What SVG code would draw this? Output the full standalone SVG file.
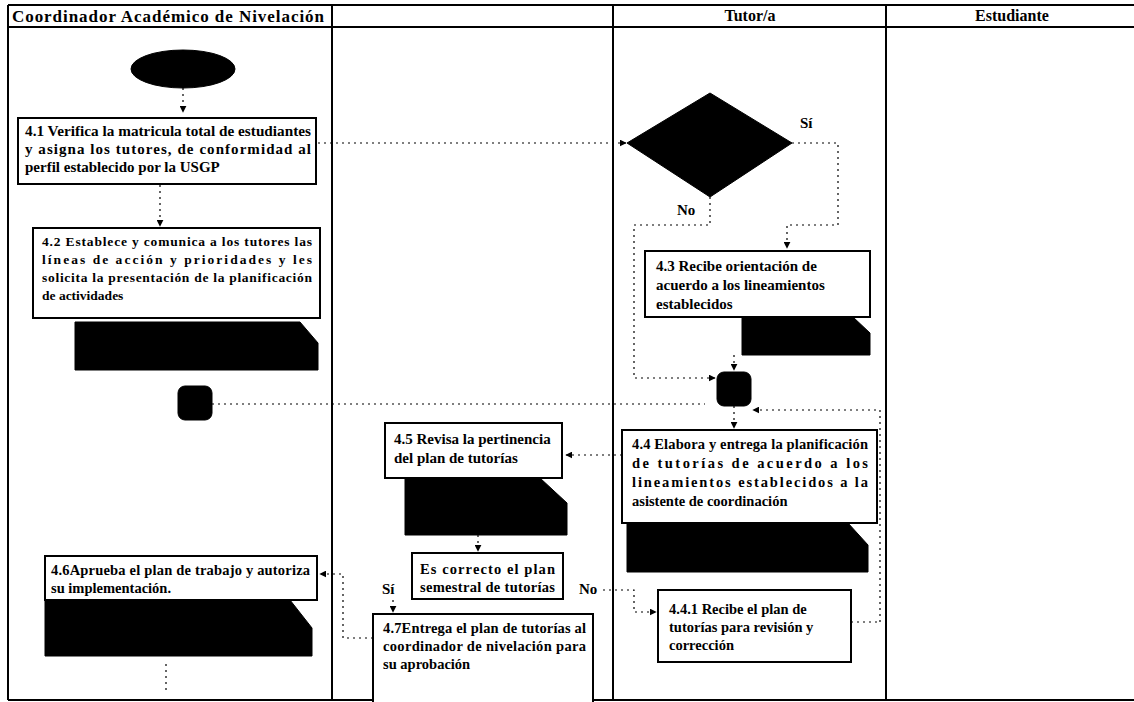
<svg xmlns="http://www.w3.org/2000/svg" width="1134" height="702" viewBox="0 0 1134 702">
<style>
.t{font-family:"Liberation Serif","Times New Roman",serif;font-weight:bold;fill:#000}
.h{font-size:17px}
.b{fill:#fff;stroke:#000;stroke-width:2}
.k{fill:#000;stroke:#000;stroke-width:1}
.lane{stroke:#000;stroke-width:2;fill:none}
.c{fill:none;stroke:#000;stroke-width:1.2;stroke-dasharray:2 4}
.lbl{font-size:15px}
</style>
<defs>
<marker id="ah" viewBox="0 0 10 10" refX="9" refY="5" markerWidth="7" markerHeight="7" orient="auto" markerUnits="userSpaceOnUse">
<path d="M0,0 L10,5 L0,10 z" fill="#000"/>
</marker>
</defs>
<rect width="1134" height="702" fill="#fff"/>
<g id="lanes">
<line class="lane" x1="8" y1="5" x2="1134" y2="5"/>
<line class="lane" x1="8" y1="27" x2="1134" y2="27"/>
<line class="lane" x1="8" y1="5" x2="8" y2="700"/>
<line class="lane" x1="332" y1="5" x2="332" y2="700"/>
<line class="lane" x1="613" y1="5" x2="613" y2="700"/>
<line class="lane" x1="886" y1="5" x2="886" y2="700"/>
<line class="lane" x1="8" y1="700" x2="1134" y2="700"/>
<text class="t h" x="12" y="22" textLength="312" lengthAdjust="spacing">Coordinador Académico de Nivelación</text>
<text class="t" font-size="16" x="750" y="21" text-anchor="middle">Tutor/a</text>
<text class="t" font-size="16" x="1012" y="21" text-anchor="middle">Estudiante</text>
</g>
<g id="connectors">
<path class="c" d="M183,88 V112" marker-end="url(#ah)"/>
<path class="c" d="M160,185 V226" marker-end="url(#ah)"/>
<path class="c" d="M318,143 H626" marker-end="url(#ah)"/>
<path class="c" d="M792,143 H838 V225 H787 V248" marker-end="url(#ah)"/>
<path class="c" d="M710,197 V225 H634 V378 H715" marker-end="url(#ah)"/>
<path class="c" d="M734,355 V370" marker-end="url(#ah)"/>
<path class="c" d="M212,404 H705"/>
<path class="c" d="M880,622 V410 H753" marker-end="url(#ah)"/>
<path class="c" d="M851,622 H880"/>
<path class="c" d="M734,406 V428" marker-end="url(#ah)"/>
<path class="c" d="M622,455 H566" marker-end="url(#ah)"/>
<path class="c" d="M478,535 V551" marker-end="url(#ah)"/>
<path class="c" d="M393,600 V612" marker-end="url(#ah)"/>
<path class="c" d="M603,590 H634 V612 H656" marker-end="url(#ah)"/>
<path class="c" d="M373,638 H343 V574 H320" marker-end="url(#ah)"/>
<path class="c" d="M166,664 V690"/>
</g>
<g id="inicio">
<ellipse class="k" cx="183" cy="69" rx="52" ry="19"/>
</g>
<g id="n41">
<rect class="b" x="18" y="118" width="298" height="66"/>
<text class="t" font-size="15"><tspan x="25" y="136" textLength="286" lengthAdjust="spacingAndGlyphs">4.1 Verifica la matricula total de estudiantes</tspan><tspan x="25" y="154" textLength="286" lengthAdjust="spacing">y asigna los tutores, de conformidad al</tspan><tspan x="25" y="172">perfil establecido por la USGP</tspan></text>
</g>
<g id="n42">
<rect class="b" x="33" y="228" width="287" height="90"/>
<text class="t" font-size="13.5"><tspan x="42" y="246" textLength="270" lengthAdjust="spacing">4.2 Establece y comunica a los tutores las</tspan><tspan x="42" y="264" textLength="270" lengthAdjust="spacing">líneas de acción y prioridades y les</tspan><tspan x="42" y="282" textLength="270" lengthAdjust="spacing">solicita la presentación de la planificación</tspan><tspan x="42" y="300">de actividades</tspan></text>
</g>
<g id="doc42">
<path class="k" d="M75,322 H300 L318,343 V370 H75 Z"/>
</g>
<g id="conA">
<rect class="k" x="178" y="386" width="34" height="34" rx="7"/>
</g>
<g id="decision1">
<polygon class="k" points="710,93 792,143 710,197 627,143"/>
<text class="t lbl" x="800" y="128">Sí</text>
<text class="t lbl" x="677" y="215">No</text>
</g>
<g id="n43">
<rect class="b" x="645" y="251" width="225" height="66"/>
<text class="t" font-size="15"><tspan x="656" y="271">4.3 Recibe orientación de</tspan><tspan x="656" y="290">acuerdo a los lineamientos</tspan><tspan x="656" y="309">establecidos</tspan></text>
</g>
<g id="doc43">
<path class="k" d="M742,317 H853 L870,333 V355 H742 Z"/>
</g>
<g id="conB">
<rect class="k" x="717" y="372" width="34" height="34" rx="7"/>
</g>
<g id="n44">
<rect class="b" x="622" y="430" width="255" height="93"/>
<text class="t" font-size="14.5"><tspan x="632" y="449" textLength="236" lengthAdjust="spacing">4.4 Elabora y entrega la planificación</tspan><tspan x="632" y="468" textLength="236" lengthAdjust="spacing">de tutorías de acuerdo a los</tspan><tspan x="632" y="487" textLength="236" lengthAdjust="spacing">lineamientos establecidos a la</tspan><tspan x="632" y="506">asistente de coordinación</tspan></text>
</g>
<g id="doc44">
<path class="k" d="M627,523 H848 L868,545 V572 H627 Z"/>
</g>
<g id="n441">
<rect class="b" x="658" y="590" width="193" height="72"/>
<text class="t" font-size="14.5"><tspan x="669" y="614">4.4.1 Recibe el plan de</tspan><tspan x="669" y="632">tutorías para revisión y</tspan><tspan x="669" y="650">corrección</tspan></text>
</g>
<g id="n45">
<rect class="b" x="385" y="423" width="177" height="55"/>
<text class="t" font-size="15"><tspan x="394" y="444">4.5 Revisa la pertinencia</tspan><tspan x="394" y="463">del plan de tutorías</tspan></text>
</g>
<g id="doc45">
<path class="k" d="M405,478 H540 L567,503 V535 H405 Z"/>
</g>
<g id="decision2">
<rect class="b" x="412" y="553" width="151" height="46"/>
<text class="t" font-size="14.5"><tspan x="420" y="574" textLength="135" lengthAdjust="spacing">Es correcto el plan</tspan><tspan x="420" y="592" textLength="135" lengthAdjust="spacing">semestral de tutorías</tspan></text>
<text class="t lbl" x="382" y="594">Sí</text>
<text class="t lbl" x="579" y="594">No</text>
</g>
<g id="n46">
<rect class="b" x="45" y="556" width="272" height="44"/>
<text class="t" font-size="14.5"><tspan x="51" y="575" textLength="259" lengthAdjust="spacing">4.6Aprueba el plan de trabajo y autoriza</tspan><tspan x="51" y="593">su implementación.</tspan></text>
</g>
<g id="doc46">
<path class="k" d="M45,600 H290 L312,628 V656 H45 Z"/>
</g>
<g id="n47">
<rect class="b" x="373" y="614" width="220" height="90"/>
<text class="t" font-size="14.5"><tspan x="383" y="633" textLength="203" lengthAdjust="spacing">4.7Entrega el plan de tutorías al</tspan><tspan x="383" y="651" textLength="203" lengthAdjust="spacing">coordinador de nivelación para</tspan><tspan x="383" y="669">su aprobación</tspan></text>
</g>
</svg>
